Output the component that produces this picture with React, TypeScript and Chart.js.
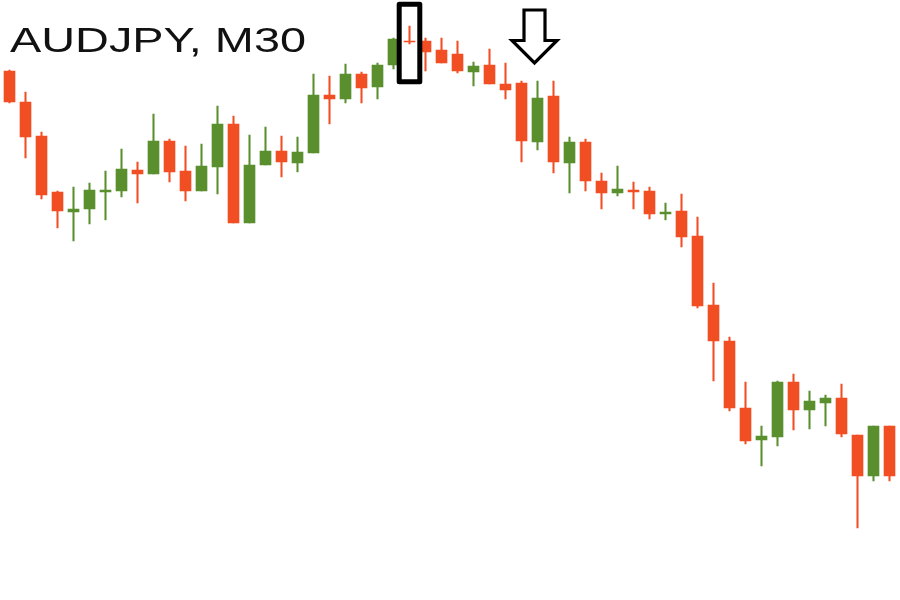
import { useEffect, useRef } from "react"
import { Chart, registerables } from "chart.js"

Chart.register(...registerables)

// AUDJPY, 30-minute candles
const times = [
  "14.03 10:00", "14.03 10:30", "14.03 11:00", "14.03 11:30", "14.03 12:00", "14.03 12:30", "14.03 13:00",
  "14.03 13:30", "14.03 14:00", "14.03 14:30", "14.03 15:00", "14.03 15:30", "14.03 16:00", "14.03 16:30",
  "14.03 17:00", "14.03 17:30", "14.03 18:00", "14.03 18:30", "14.03 19:00", "14.03 19:30", "14.03 20:00",
  "14.03 20:30", "14.03 21:00", "14.03 21:30", "14.03 22:00", "14.03 22:30", "14.03 23:00", "14.03 23:30",
  "15.03 00:00", "15.03 00:30", "15.03 01:00", "15.03 01:30", "15.03 02:00", "15.03 02:30", "15.03 03:00",
  "15.03 03:30", "15.03 04:00", "15.03 04:30", "15.03 05:00", "15.03 05:30", "15.03 06:00", "15.03 06:30",
  "15.03 07:00", "15.03 07:30", "15.03 08:00", "15.03 08:30", "15.03 09:00", "15.03 09:30", "15.03 10:00",
  "15.03 10:30", "15.03 11:00", "15.03 11:30", "15.03 12:00", "15.03 12:30", "15.03 13:00", "15.03 13:30",
]

const opens = [
  89.29, 88.98, 88.64, 88.08, 87.88, 87.91, 88.08, 88.09, 88.3, 88.26,
  88.59, 88.29, 88.09, 88.33, 88.76, 87.77, 88.35, 88.49, 88.37, 88.47,
  89.05, 89.01, 89.26, 89.13, 89.35, 89.59, 89.59, 89.5, 89.46, 89.28,
  89.35, 89.16, 89.17, 88.58, 89.04, 88.37, 88.58, 88.19, 88.07, 88.1,
  88.09, 87.86, 87.89, 87.64, 86.95, 86.59, 85.92, 85.6, 85.63, 86.18,
  85.9, 85.97, 86.02, 85.65, 85.24, 85.74,
]

const highs = [
  89.3, 89.08, 88.68, 88.09, 88.13, 88.17, 88.29, 88.51, 88.38, 88.86,
  88.61, 88.54, 88.56, 88.94, 88.84, 88.65, 88.73, 88.64, 88.63, 89.26,
  89.24, 89.36, 89.28, 89.37, 89.62, 89.74, 89.62, 89.62, 89.59, 89.38,
  89.51, 89.37, 89.19, 89.19, 89.19, 88.63, 88.61, 88.27, 88.34, 88.18,
  88.13, 87.97, 88.06, 87.83, 87.17, 86.63, 86.18, 85.74, 86.19, 86.26,
  86.09, 86.05, 86.16, 85.65, 85.74, 85.74,
]

const lows = [
  88.97, 88.42, 88.01, 87.72, 87.59, 87.76, 87.8, 88.03, 87.97, 88.26,
  88.18, 87.99, 88.09, 88.06, 87.77, 87.77, 88.35, 88.23, 88.28, 88.47,
  88.76, 88.97, 88.97, 89.01, 89.31, 89.56, 89.29, 89.37, 89.27, 89.14,
  89.16, 89.01, 88.38, 88.5, 88.27, 88.07, 88.09, 87.91, 88.04, 87.91,
  87.81, 87.8, 87.53, 86.92, 86.19, 85.89, 85.56, 85.34, 85.54, 85.7,
  85.71, 85.74, 85.63, 84.72, 85.19, 85.19,
]

const closes = [
  88.98, 88.63, 88.05, 87.89, 87.91, 88.1, 88.1, 88.31, 88.26, 88.59,
  88.28, 88.09, 88.34, 88.76, 87.77, 88.35, 88.49, 88.38, 88.48, 89.05,
  89.01, 89.26, 89.12, 89.35, 89.61, 89.58, 89.48, 89.37, 89.29, 89.34,
  89.16, 89.1, 88.59, 89.02, 88.38, 88.58, 88.19, 88.07, 88.11, 88.08,
  87.86, 87.88, 87.63, 86.94, 86.59, 85.92, 85.59, 85.64, 86.18, 85.9,
  85.99, 86.02, 85.66, 85.24, 85.74, 85.24,
]

const TITLE = "AUDJPY, M30"
const MARKED_CANDLE = 25 // the doji in the box
const ARROW_CANDLE = 33

const UP = "#5a8f2e"
const DOWN = "#f24e23"

const markup = {
  id: "markup",
  afterDraw(chart: Chart) {
    const { ctx } = chart
    const x = chart.scales.x
    ctx.save()

    // title - the screenshot is stretched sideways, so is the text
    ctx.fillStyle = "#111"
    ctx.font = "35px 'Liberation Sans', Arial, sans-serif"
    ctx.textBaseline = "alphabetic"
    const w = ctx.measureText(TITLE).width
    ctx.save()
    ctx.translate(10, 52)
    ctx.scale(296 / w, 1)
    ctx.fillText(TITLE, 0, 0)
    ctx.restore()

    // box round the doji
    const bx = x.getPixelForValue(MARKED_CANDLE)
    ctx.strokeStyle = "#000"
    ctx.lineWidth = 5
    ctx.lineJoin = "round"
    ctx.strokeRect(bx - 10.3, 4.2, 20.6, 77.6)

    // hollow down arrow
    const ax = x.getPixelForValue(ARROW_CANDLE) - 3
    ctx.lineWidth = 3.2
    ctx.lineJoin = "miter"
    ctx.beginPath()
    ctx.moveTo(ax - 10.5, 10)
    ctx.lineTo(ax + 10.5, 10)
    ctx.lineTo(ax + 10.5, 40.5)
    ctx.lineTo(ax + 22.5, 40.5)
    ctx.lineTo(ax, 63)
    ctx.lineTo(ax - 22.5, 40.5)
    ctx.lineTo(ax - 10.5, 40.5)
    ctx.closePath()
    ctx.stroke()

    ctx.restore()
  },
}

export default function App() {
  const chartRef = useRef<HTMLCanvasElement>(null)
  const chartInstance = useRef<Chart | null>(null)

  useEffect(() => {
    if (!chartRef.current) return
    if (chartInstance.current) chartInstance.current.destroy()

    const colors = closes.map((c, i) => (c >= opens[i] ? UP : DOWN))

    chartInstance.current = new Chart(chartRef.current, {
      type: "bar",
      data: {
        labels: times,
        datasets: [
          {
            label: "Body",
            data: opens.map((o, i) => [o, closes[i]]),
            backgroundColor: colors,
            borderWidth: 0,
            barThickness: 11,
            grouped: false,
            order: 0,
          },
          {
            label: "Wick",
            data: lows.map((l, i) => [l, highs[i]]),
            backgroundColor: colors,
            borderWidth: 0,
            barThickness: 1.4,
            grouped: false,
            order: 1,
          },
        ],
      },
      options: {
        animation: false,
        responsive: true,
        maintainAspectRatio: false,
        events: [],
        layout: { padding: { left: 1.5, right: 2.5, top: 0, bottom: 0 } },
        scales: {
          x: { display: false },
          y: { display: false, min: 84, max: 90 },
        },
        plugins: {
          legend: { display: false },
          tooltip: { enabled: false },
        },
      },
      plugins: [markup],
    })

    return () => {
      if (chartInstance.current) {
        chartInstance.current.destroy()
        chartInstance.current = null
      }
    }
  }, [])

  return (
    <div style={{ position: "fixed", left: 0, top: 0, width: 900, height: 600, background: "#fff" }}>
      <canvas ref={chartRef} />
    </div>
  )
}
